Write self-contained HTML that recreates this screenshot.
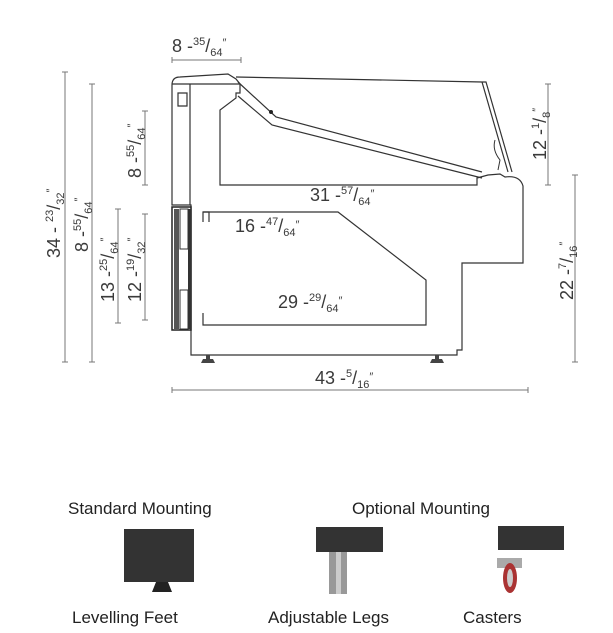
<!DOCTYPE html>
<html><head><meta charset="utf-8"><style>
html,body{margin:0;padding:0;background:#fff;}
svg{display:block;font-family:"Liberation Sans",sans-serif;}
.d{stroke:#777;stroke-width:1;fill:none}
.o{stroke:#333;stroke-width:1.2;fill:#fff}
.t{fill:#3a3a3a;font-size:18px}
.s{font-size:11px}
.b{fill:#222;font-size:17px}
</style></head><body>
<svg width="613" height="633" viewBox="0 0 613 633">
<g class="d">
<path d="M172 60H241M172 57v6M241 57v6"/>
<path d="M65 72V362M62 72h6M62 362h6"/>
<path d="M92 84V362M89 84h6M89 362h6"/>
<path d="M118 209V323M115 209h6M115 323h6"/>
<path d="M145 214V320M142 214h6M142 320h6"/>
<path d="M145 111V185M142 111h6M142 185h6"/>
<path d="M548 84V185M545 84h6M545 185h6"/>
<path d="M575 175V362M572 175h6M572 362h6"/>
<path d="M172 390H528M172 387v6M528 387v6"/>
<path d="M220 204H481M220 201v6M481 201v6"/>
<path d="M204 237H341M204 234v6M341 234v6"/>
<path d="M204 313H429M204 310v6M429 310v6"/>
</g>
<g class="o">
<path d="M191 355V205H172V85Q172 77 180 77L228 74L236 79L240 84V93H236V98L220 110V185H477V178L488 175L500 174L505 177Q520 175 523 186V263H462V350H457V355Z"/>
<path d="M172 84H240"/>
<path d="M190 84V205"/>
<path d="M236 77L482 82L508 172M482 82L486 82L512 172" fill="none"/>
<path d="M238 82L276 117L482 172M238 96L272 125L482 178" fill="none"/>
<path d="M203 222V212H338L426 280V325H203V313" fill="#fff"/>
<path d="M203 212H209V222" fill="none"/>
<path d="M178 93h9v13h-9z"/>
</g>
<circle cx="271" cy="112" r="2" fill="#222"/>
<path d="M495 140Q492 150 500 160L498 170" stroke="#333" fill="none"/>
<rect x="172" y="207" width="19" height="123" fill="#fff" stroke="#222" stroke-width="1.5"/>
<rect x="174" y="209" width="5" height="120" fill="#555"/>
<rect x="180" y="209" width="8" height="40" fill="#fff" stroke="#333"/>
<rect x="180" y="290" width="8" height="39" fill="#fff" stroke="#333"/>
<rect x="188" y="209" width="3" height="120" fill="#333"/>
<path d="M203 359h10l2 4h-14z M206 355h4v4h-4z" fill="#444"/>
<path d="M432 359h10l2 4h-14z M435 355h4v4h-4z" fill="#444"/>
<text class="t" x="172" y="52">8 -<tspan class="s" dy="-7">35</tspan><tspan dy="7">/</tspan><tspan class="s" dy="4">64</tspan><tspan class="s" dy="-10">″</tspan></text>
<text class="t" x="310" y="201">31 -<tspan class="s" dy="-7">57</tspan><tspan dy="7">/</tspan><tspan class="s" dy="4">64</tspan><tspan class="s" dy="-8">″</tspan></text>
<text class="t" x="235" y="232">16 -<tspan class="s" dy="-7">47</tspan><tspan dy="7">/</tspan><tspan class="s" dy="4">64</tspan><tspan class="s" dy="-8">″</tspan></text>
<text class="t" x="278" y="308">29 -<tspan class="s" dy="-7">29</tspan><tspan dy="7">/</tspan><tspan class="s" dy="4">64</tspan><tspan class="s" dy="-8">″</tspan></text>
<text class="t" x="315" y="384">43 -<tspan class="s" dy="-7">5</tspan><tspan dy="7">/</tspan><tspan class="s" dy="4">16</tspan><tspan class="s" dy="-8">″</tspan></text>
<text class="t" transform="translate(60 258) rotate(-90)">34 - <tspan class="s" dy="-7">23</tspan><tspan dy="7">/</tspan><tspan class="s" dy="4">32</tspan><tspan class="s" dy="-10">″</tspan></text>
<text class="t" transform="translate(88 252) rotate(-90)">8 -<tspan class="s" dy="-7">55</tspan><tspan dy="7">/</tspan><tspan class="s" dy="4">64</tspan><tspan class="s" dy="-10">″</tspan></text>
<text class="t" transform="translate(114 302) rotate(-90)">13 -<tspan class="s" dy="-7">25</tspan><tspan dy="7">/</tspan><tspan class="s" dy="4">64</tspan><tspan class="s" dy="-10">″</tspan></text>
<text class="t" transform="translate(141 302) rotate(-90)">12 -<tspan class="s" dy="-7">19</tspan><tspan dy="7">/</tspan><tspan class="s" dy="4">32</tspan><tspan class="s" dy="-10">″</tspan></text>
<text class="t" transform="translate(141 178) rotate(-90)">8 -<tspan class="s" dy="-7">55</tspan><tspan dy="7">/</tspan><tspan class="s" dy="4">64</tspan><tspan class="s" dy="-10">″</tspan></text>
<text class="t" transform="translate(546 160) rotate(-90)">12 -<tspan class="s" dy="-7">1</tspan><tspan dy="7">/</tspan><tspan class="s" dy="4">8</tspan><tspan class="s" dy="-10">″</tspan></text>
<text class="t" transform="translate(573 300) rotate(-90)">22 -<tspan class="s" dy="-7">7</tspan><tspan dy="7">/</tspan><tspan class="s" dy="4">16</tspan><tspan class="s" dy="-10">″</tspan></text>
<text class="b" x="68" y="514">Standard Mounting</text>
<text class="b" x="352" y="514">Optional Mounting</text>
<text class="b" x="72" y="623">Levelling Feet</text>
<text class="b" x="268" y="623">Adjustable Legs</text>
<text class="b" x="463" y="623">Casters</text>
<rect x="124" y="529" width="70" height="53" fill="#333"/>
<path d="M156 582h12l4 10h-20z" fill="#222"/>
<rect x="316" y="527" width="67" height="25" fill="#333"/>
<rect x="329" y="552" width="18" height="42" fill="#999"/>
<rect x="336" y="552" width="5" height="42" fill="#ccc"/>
<rect x="498" y="526" width="66" height="24" fill="#333"/>
<path d="M497 558h25v10h-25z" fill="#aaa"/>
<ellipse cx="510" cy="578" rx="7" ry="15" fill="#a33"/>
<ellipse cx="510" cy="578" rx="3" ry="9" fill="#ccc"/>
</svg>
</body></html>
